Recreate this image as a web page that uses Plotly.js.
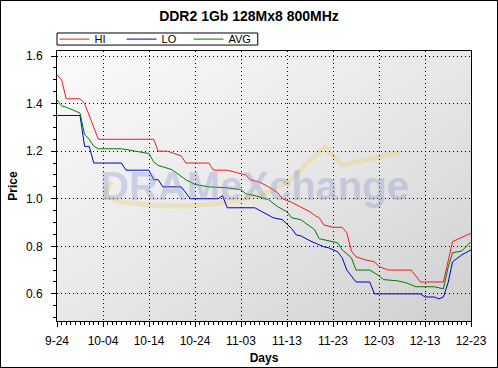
<!DOCTYPE html>
<html><head><meta charset="utf-8">
<script src="https://cdn.plot.ly/plotly-3.0.1.min.js"></script>
<style>html,body{margin:0;padding:0;background:#fff}#c{width:496px;height:366px;border:1px solid #000}</style>
</head><body><div id="c"></div>
<script>
var seriesNames = ['HI','LO','AVG'];
var hiDates = ['2008-09-24','2008-09-25','2008-09-26','2008-09-29','2008-09-30','2008-10-03','2008-10-15','2008-10-16','2008-10-18','2008-10-21','2008-10-22','2008-10-27','2008-10-28','2008-10-31','2008-11-02','2008-11-04','2008-11-05','2008-11-07','2008-11-09','2008-11-11','2008-11-12','2008-11-14','2008-11-16','2008-11-18','2008-11-19','2008-11-20','2008-11-21','2008-11-23','2008-11-25','2008-11-26','2008-11-27','2008-11-28','2008-11-30','2008-12-02','2008-12-03','2008-12-05','2008-12-10','2008-12-12','2008-12-17','2008-12-19','2008-12-23'];
var hiVals = [1.52,1.50,1.42,1.42,1.40,1.25,1.25,1.20,1.20,1.18,1.15,1.15,1.12,1.12,1.11,1.10,1.08,1.07,1.05,1.025,1.0,0.985,0.965,0.945,0.93,0.92,0.89,0.88,0.88,0.857,0.78,0.756,0.743,0.735,0.715,0.70,0.70,0.65,0.65,0.82,0.855];
var loDates = ['2008-09-24','2008-09-29','2008-09-30','2008-10-01','2008-10-02','2008-10-08','2008-10-09','2008-10-14','2008-10-15','2008-10-16','2008-10-17','2008-10-21','2008-10-23','2008-10-29','2008-10-30','2008-10-31','2008-11-06','2008-11-08','2008-11-10','2008-11-12','2008-11-14','2008-11-15','2008-11-16','2008-11-18','2008-11-19','2008-11-21','2008-11-22','2008-11-24','2008-11-25','2008-11-26','2008-11-28','2008-12-01','2008-12-02','2008-12-12','2008-12-13','2008-12-15','2008-12-16','2008-12-17','2008-12-18','2008-12-19','2008-12-21','2008-12-23'];
var loVals = [1.35,1.35,1.22,1.22,1.15,1.15,1.12,1.12,1.08,1.08,1.05,1.05,1.0,1.0,1.013,0.962,0.962,0.94,0.92,0.912,0.875,0.848,0.844,0.823,0.815,0.798,0.794,0.777,0.752,0.70,0.65,0.65,0.60,0.60,0.587,0.587,0.579,0.587,0.646,0.735,0.764,0.785];
var avgDates = ['2008-09-24','2008-09-25','2008-09-26','2008-09-29','2008-09-30','2008-10-01','2008-10-02','2008-10-03','2008-10-08','2008-10-13','2008-10-14','2008-10-15','2008-10-16','2008-10-19','2008-10-22','2008-10-24','2008-10-27','2008-10-31','2008-11-03','2008-11-04','2008-11-06','2008-11-09','2008-11-11','2008-11-13','2008-11-14','2008-11-16','2008-11-19','2008-11-20','2008-11-23','2008-11-24','2008-11-25','2008-11-27','2008-11-28','2008-12-01','2008-12-03','2008-12-04','2008-12-07','2008-12-09','2008-12-11','2008-12-15','2008-12-17','2008-12-18','2008-12-19','2008-12-21','2008-12-23'];
var avgVals = [1.415,1.39,1.385,1.36,1.27,1.25,1.22,1.21,1.21,1.195,1.19,1.155,1.14,1.122,1.08,1.06,1.05,1.046,1.038,1.021,1.013,0.996,0.966,0.945,0.92,0.912,0.87,0.832,0.819,0.815,0.785,0.752,0.70,0.70,0.676,0.66,0.655,0.646,0.63,0.63,0.621,0.71,0.773,0.78,0.82];

var FONT = 'Liberation Sans, Arial, sans-serif';
var traces = [
  {x: hiDates, y: hiVals, name: seriesNames[0], type: 'scatter', mode: 'lines', line: {color: '#ee1c1c', width: 1}},
  {x: loDates, y: loVals, name: seriesNames[1], type: 'scatter', mode: 'lines', line: {color: '#0000cc', width: 1}},
  {x: avgDates, y: avgVals, name: seriesNames[2], type: 'scatter', mode: 'lines', line: {color: '#007a00', width: 1}}
];

var bgSvg = "<svg xmlns='http://www.w3.org/2000/svg' width='414' height='270'><defs><linearGradient id='g' x1='0' y1='0' x2='1' y2='1'><stop offset='0' stop-color='#fbfbfb'/><stop offset='0.5' stop-color='#e8e8e8'/><stop offset='1' stop-color='#cfcfcf'/></linearGradient></defs><rect width='414' height='270' fill='url(#g)'/></svg>";

var layout = {
  width: 496, height: 366,
  margin: {l: 56, r: 26, t: 50, b: 46},
  paper_bgcolor: '#ffffff',
  plot_bgcolor: 'rgba(0,0,0,0)',
  font: {family: FONT, size: 12, color: '#000'},
  title: {text: 'DDR2 1Gb 128Mx8 800MHz', font: {family: FONT, size: 14, weight: 'bold', color: '#000'},
          x: 0.5, xref: 'container', xanchor: 'center', y: 1 - 15/366, yref: 'container', yanchor: 'middle'},
  showlegend: true,
  legend: {orientation: 'h', x: -0.006, xanchor: 'left', y: 1.044, yanchor: 'middle', bgcolor: 'rgba(0,0,0,0)',
           borderwidth: 0, font: {family: FONT, size: 11}, entrywidth: 22, entrywidthmode: 'pixels',
           tracegroupgap: 0, itemwidth: 30},
  xaxis: {type: 'date', range: ['2008-09-24', '2008-12-23'], tick0: '2008-09-24', dtick: 864000000,
          tickformat: '%-m-%d', ticks: 'outside', ticklen: 5, tickcolor: '#000', ticklabelstandoff: 4,
          showline: true, linecolor: '#000', linewidth: 1, mirror: true,
          showgrid: true, gridcolor: '#000', griddash: '1px,3px', gridwidth: 1, zeroline: false,
          minor: {dtick: 86400000, tick0: '2008-09-24', ticks: 'outside', ticklen: 3, tickcolor: '#000', showgrid: false},
          title: {text: 'Days', font: {family: FONT, size: 12, weight: 'bold'}, standoff: 6},
          tickfont: {family: FONT, size: 12}},
  yaxis: {range: [0.486, 1.621], tick0: 0, dtick: 0.2, tickformat: '.1f',
          ticks: 'outside', ticklen: 5, tickcolor: '#000', ticklabelstandoff: 6,
          showline: true, linecolor: '#000', linewidth: 1, mirror: true,
          showgrid: true, gridcolor: '#000', griddash: '1px,3px', gridwidth: 1, zeroline: false,
          minor: {dtick: 0.05, tick0: 0, ticks: 'outside', ticklen: 3, tickcolor: '#000', showgrid: false},
          title: {text: 'Price', font: {family: FONT, size: 12, weight: 'bold'}, standoff: 5},
          tickfont: {family: FONT, size: 12}},
  images: [{source: 'data:image/svg+xml;charset=utf-8,' + encodeURIComponent(bgSvg), xref: 'paper', yref: 'paper',
            x: 0, y: 1, sizex: 1, sizey: 1, sizing: 'stretch', layer: 'below', xanchor: 'left', yanchor: 'top'}],
  shapes: [
    {type: 'path', xref: 'paper', yref: 'paper', layer: 'below',
     path: 'M 0.133 0.515 Q 0.092 0.448 0.176 0.437 Q 0.345 0.404 0.49 0.467 Q 0.563 0.504 0.599 0.578 L 0.647 0.644 L 0.688 0.578 L 0.829 0.626',
     line: {color: 'rgba(235,205,120,0.38)', width: 5}},
    {type: 'rect', xref: 'paper', yref: 'paper', x0: 0, x1: 0.485, y0: 1.022, y1: 1.0667, layer: 'below',
     fillcolor: '#ffffff', line: {color: '#000', width: 1}}
  ],
  annotations: [{text: 'DRAMeXchange', xref: 'paper', yref: 'paper', x: 0.478, y: 0.5, xanchor: 'center', yanchor: 'middle',
                 showarrow: false, font: {family: FONT, size: 40, weight: 'bold', color: 'rgba(140,150,205,0.36)'}}]
};
Plotly.newPlot('c', traces, layout, {displayModeBar: false, staticPlot: true});
</script></body></html>
